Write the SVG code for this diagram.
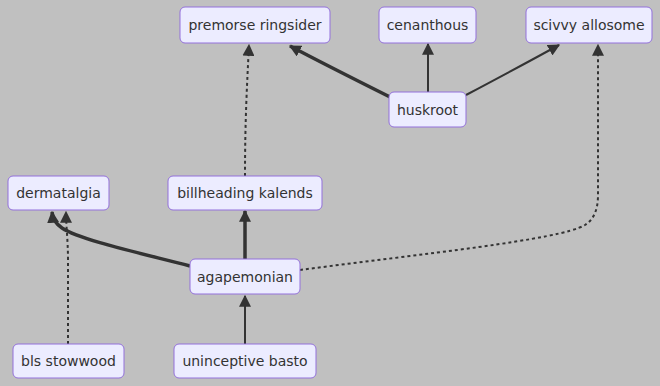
<svg xmlns="http://www.w3.org/2000/svg" width="660" height="386" viewBox="0 0 660 386">
  <style>
    .node rect { fill: #ececff; stroke: #9370db; stroke-width: 1; }
    .node text { font-family: "DejaVu Sans", Verdana, sans-serif; font-size: 14px; fill: #333333; text-anchor: middle; dominant-baseline: central; }
    .edge { fill: none; stroke: #333333; stroke-width: 2; }
    .thick { stroke-width: 3.5; }
    .dotted { stroke-dasharray: 3 3; }
  </style>
  <defs>
    <marker id="arrow" viewBox="0 0 10 10" refX="9" refY="5" markerUnits="userSpaceOnUse" markerWidth="12" markerHeight="12" orient="auto">
      <path d="M0,0 L10,5 L0,10 z" fill="#333333"/>
    </marker>
  </defs>
  <rect x="0" y="0" width="660" height="386" fill="#c0c0c0"/>

  <g id="connectors">
    <path class="edge thick" d="M390,97 C360,82 322,63 290,46" marker-end="url(#arrow)"/>
    <path class="edge" d="M428,92 L428,44" marker-end="url(#arrow)"/>
    <path class="edge" d="M466,95 C500,77 530,61 559,45" marker-end="url(#arrow)"/>
    <path class="edge dotted" d="M245,176 C245,120 247,85 249,45" marker-end="url(#arrow)"/>
    <path class="edge dotted" d="M300,270 C420,254 560,240 585,225 Q598,217 598,195 L598,45" marker-end="url(#arrow)"/>
    <path class="edge thick" d="M190,266 C140,253 80,240 62,228 Q53,222 52,212" marker-end="url(#arrow)"/>
    <path class="edge thick" d="M245,259 L245,211" marker-end="url(#arrow)"/>
    <path class="edge dotted" d="M68,344 L68,260 C68,240 66,226 66,212" marker-end="url(#arrow)"/>
    <path class="edge" d="M245,344 L245,296" marker-end="url(#arrow)"/>
  </g>

  <g id="premorse-ringsider" class="node">
    <rect x="180" y="7" width="150" height="36" rx="5"/>
    <text x="255" y="25">premorse ringsider</text>
  </g>
  <g id="cenanthous" class="node">
    <rect x="379" y="7" width="97" height="36" rx="5"/>
    <text x="427.5" y="25">cenanthous</text>
  </g>
  <g id="scivvy-allosome" class="node">
    <rect x="526" y="7" width="126" height="36" rx="5"/>
    <text x="589" y="25">scivvy allosome</text>
  </g>
  <g id="huskroot" class="node">
    <rect x="389" y="92" width="77" height="35" rx="5"/>
    <text x="427.5" y="109.5">huskroot</text>
  </g>
  <g id="dermatalgia" class="node">
    <rect x="8" y="176" width="101" height="34" rx="5"/>
    <text x="58.5" y="193">dermatalgia</text>
  </g>
  <g id="billheading-kalends" class="node">
    <rect x="168" y="176" width="154" height="34" rx="5"/>
    <text x="245" y="193">billheading kalends</text>
  </g>
  <g id="agapemonian" class="node">
    <rect x="190" y="259" width="110" height="35" rx="5"/>
    <text x="245" y="276.5">agapemonian</text>
  </g>
  <g id="bls-stowwood" class="node">
    <rect x="13" y="344" width="111" height="34" rx="5"/>
    <text x="68.5" y="361">bls stowwood</text>
  </g>
  <g id="uninceptive-basto" class="node">
    <rect x="174" y="344" width="142" height="34" rx="5"/>
    <text x="245" y="361">uninceptive basto</text>
  </g>
</svg>
